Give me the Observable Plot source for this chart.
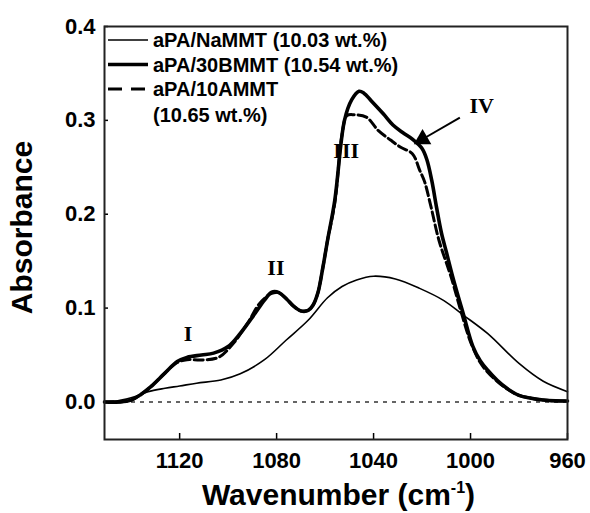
<!DOCTYPE html>
<html><head><meta charset="utf-8">
<script src="https://cdn.jsdelivr.net/npm/d3@7"></script>
<script src="https://cdn.jsdelivr.net/npm/@observablehq/plot@0.6"></script>
<style>
body{margin:0;background:#fff}
#chart{position:relative;width:590px;height:513px}
svg{color:#000}
</style>
</head><body><div id="chart"></div>
<script>
// ---- data ----
const seriesNames = ["aPA/NaMMT (10.03 wt.%)", "aPA/30BMMT (10.54 wt.%)", "aPA/10AMMT"];
const seriesNote = "(10.65 wt.%)";

const wnNa = [1151,1146,1142,1138,1133,1126,1120,1113,1103,1095,1085,1076,1067,1059,1053,1047,1040,1031,1021,1011,1003,993,980,970,960];
const absNa = [0,0.001,0.003,0.006,0.011,0.0146,0.017,0.020,0.0234,0.030,0.045,0.066,0.087,0.111,0.123,0.130,0.134,0.131,0.121,0.108,0.0926,0.073,0.041,0.022,0.011];

const wn30B = [1151,1145,1140,1136,1132,1126,1121,1117,1111,1106,1100,1095,1089,1085,1082,1079,1076,1073,1070,1067,1065,1063,1061,1059,1056,1052,1049,1046,1044,1041,1036,1032,1028,1024,1020,1018,1016,1014,1012,1010,1007,1003,999,996,993,989,985,980,975,970,965,960];
const abs30B = [0,0,0.002,0.008,0.016,0.031,0.043,0.0475,0.050,0.052,0.059,0.073,0.094,0.1085,0.117,0.1165,0.110,0.102,0.097,0.0975,0.103,0.116,0.142,0.172,0.215,0.300,0.322,0.331,0.329,0.321,0.307,0.295,0.287,0.280,0.270,0.258,0.236,0.207,0.180,0.160,0.130,0.094,0.059,0.044,0.034,0.023,0.0145,0.007,0.004,0.002,0.0012,0.001];

const wn10A = [1151,1145,1140,1136,1132,1126,1121,1117,1111,1104,1098,1092,1087,1082,1079,1076,1073,1070,1067,1065,1063,1061,1059,1056,1053,1051,1048,1043,1038,1033,1029,1024,1021,1019,1016.5,1013,1008,1004,1000,996,993,989,985,980,975,970,965,960];
const abs10A = [0,0,0.002,0.008,0.016,0.031,0.042,0.045,0.0447,0.0475,0.062,0.0837,0.105,0.1156,0.116,0.110,0.102,0.097,0.0975,0.103,0.116,0.142,0.172,0.212,0.285,0.305,0.306,0.3035,0.289,0.279,0.2716,0.2645,0.247,0.235,0.210,0.172,0.133,0.097,0.064,0.042,0.032,0.022,0.014,0.007,0.004,0.002,0.0012,0.001];

const xTicks = [1120, 1080, 1040, 1000, 960];
const yTicks = [0.0, 0.1, 0.2, 0.3, 0.4];

const peakLabels = ["I", "II", "III", "IV"];
const peakX = [1116.5, 1080.3, 1051.3, 995.4];
const peakY = [0.0723, 0.143, 0.267, 0.315];

const arrowFrom = {x: 1004.4, y: 0.303};
const arrowTo = {x: 1021.5, y: 0.2774};

// ---- build tables ----
const toRows = (xs, ys) => xs.map((x, i) => ({x, y: ys[i]}));
const rowsNa = toRows(wnNa, absNa);
const rows30B = toRows(wn30B, abs30B);
const rows10A = toRows(wn10A, abs10A);
const peaks = peakLabels.map((t, i) => ({t, x: peakX[i], y: peakY[i]}));

const sans = "'Liberation Sans', Arial, Helvetica, sans-serif";

const W = 590, H = 513, mL = 104, mR = 23, mT = 26, mB = 74;
const xDomain = [1151, 960], yDomain = [-0.04, 0.4];
// arrowhead orientation (pixel space, derived from the scales' linear mapping)
const px = d3.scaleLinear(xDomain, [mL, W - mR]);
const py = d3.scaleLinear(yDomain, [H - mB, mT]);
const adx = px(arrowTo.x) - px(arrowFrom.x), ady = py(arrowTo.y) - py(arrowFrom.y);
const headRotate = Math.atan2(adx, -ady) * 180 / Math.PI;
const headPos = {x: arrowTo.x + (arrowFrom.x - arrowTo.x) * 0.1, y: arrowTo.y + (arrowFrom.y - arrowTo.y) * 0.1};
const shaftEnd = {x: arrowTo.x + (arrowFrom.x - arrowTo.x) * 0.18, y: arrowTo.y + (arrowFrom.y - arrowTo.y) * 0.18};

const plot = Plot.plot({
  width: W, height: H,
  marginLeft: mL, marginRight: mR, marginTop: mT, marginBottom: mB,
  x: {domain: xDomain},
  y: {domain: yDomain},
  style: {fontFamily: sans, background: "#fff", color: "#000"},
  marks: [
    Plot.ruleY([0], {stroke: "#333", strokeWidth: 1.6, strokeDasharray: "4,5"}),
    Plot.line(rowsNa, {x: "x", y: "y", stroke: "#000", strokeWidth: 1.6, curve: "catmull-rom"}),
    Plot.line(rows10A, {x: "x", y: "y", stroke: "#000", strokeWidth: 3, strokeDasharray: "9,4", curve: "catmull-rom"}),
    Plot.line(rows30B, {x: "x", y: "y", stroke: "#000", strokeWidth: 3.6, curve: "catmull-rom", strokeLinejoin: "round"}),
    Plot.axisX({ticks: xTicks, tickSize: -6, tickPadding: 19, tickFormat: d => String(d), fontSize: 22, fontWeight: "bold", label: null, strokeWidth: 1.5}),
    Plot.axisY({ticks: yTicks, tickSize: -4, tickPadding: 13, tickFormat: d3.format(".1f"), fontSize: 22, fontWeight: "bold", label: null, strokeWidth: 1.5}),
    Plot.frame({stroke: "#222", strokeWidth: 2}),
    Plot.text(peaks, {x: "x", y: "y", text: "t", fontFamily: "'Liberation Serif', 'Times New Roman', serif", fontSize: 22, fontWeight: "bold", fill: "#000"}),
    Plot.link([{x1: arrowFrom.x, y1: arrowFrom.y, x2: shaftEnd.x, y2: shaftEnd.y}], {x1: "x1", y1: "y1", x2: "x2", y2: "y2", stroke: "#000", strokeWidth: 2}),
    Plot.dot([headPos], {x: "x", y: "y", symbol: "triangle", r: 6.5, fill: "#000", stroke: "none", rotate: headRotate})
  ]
});

const svg = d3.select(plot);
const xs = plot.scale("x"), ys = plot.scale("y");
const fLeft = Math.min(...xs.range), fRight = Math.max(...xs.range);
const fTop = Math.min(...ys.range), fBottom = Math.max(...ys.range);

// axis titles
svg.append("text")
  .attr("transform", `translate(${fLeft - 72},${(fTop + fBottom) / 2 - 5}) rotate(-90)`)
  .attr("text-anchor", "middle")
  .attr("font-family", sans).attr("font-weight", "bold").attr("font-size", 30)
  .attr("fill", "#000")
  .text("Absorbance");

const xt = svg.append("text")
  .attr("x", (fLeft + fRight) / 2 + 3).attr("y", fBottom + 66)
  .attr("text-anchor", "middle")
  .attr("font-family", sans).attr("font-weight", "bold").attr("font-size", 30)
  .attr("fill", "#000");
xt.append("tspan").text("Wavenumber (cm");
xt.append("tspan").attr("dy", -12).attr("font-size", 16).text("-1");
xt.append("tspan").attr("dy", 12).text(")");

// legend
const lg = svg.append("g").attr("transform", `translate(${fLeft + 4},${fTop + 14})`)
  .attr("text-anchor", "start");
const lStyles = [
  {w: 1.6, dash: null},
  {w: 3.6, dash: null},
  {w: 3, dash: "14,9"}
];
seriesNames.forEach((name, i) => {
  const cy = i * 24.5;
  lg.append("line").attr("x1", 0).attr("x2", 40).attr("y1", cy).attr("y2", cy)
    .attr("stroke", "#000").attr("stroke-width", lStyles[i].w)
    .attr("stroke-dasharray", lStyles[i].dash);
  lg.append("text").attr("x", 45).attr("y", cy + 7).attr("text-anchor", "start")
    .attr("font-family", sans).attr("font-weight", "bold").attr("font-size", 20)
    .attr("fill", "#000").text(name);
});
lg.append("text").attr("x", 45).attr("y", 3 * 25 + 7).attr("text-anchor", "start")
  .attr("font-family", sans).attr("font-weight", "bold").attr("font-size", 20)
  .attr("fill", "#000").text(seriesNote);

document.getElementById("chart").appendChild(plot);
</script>
</body></html>
